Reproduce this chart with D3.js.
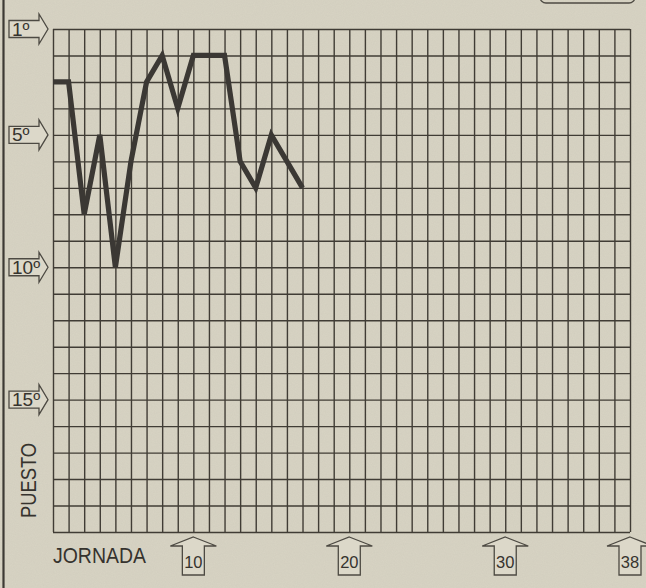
<!DOCTYPE html>
<html>
<head>
<meta charset="utf-8">
<script src="https://cdn.jsdelivr.net/npm/d3@7"></script>
<style>
  html, body { margin: 0; padding: 0; background: #d8d4c4; }
  svg { display: block; }
  .grid line { stroke: #403c35; stroke-width: 1.4; }
  .grid .domain { display: none; }
  .grid text { display: none; }
  .lbl { font-family: 'Liberation Sans Narrow', 'Liberation Sans', Arial, sans-serif; fill: #36332e; }
  .arrow { fill: #dcd8c9; stroke: #4d4a43; stroke-width: 1.3; }
</style>
</head>
<body>
<div id="chart"></div>
<script>
// data: league position after each matchday
var jornadas = [1, 2, 3, 4, 5, 6, 7, 8, 9, 10, 11, 12, 13, 14, 15, 16, 17]
var puestos = [3, 3, 8, 5, 10, 6, 3, 2, 4, 2, 2, 2, 6, 7, 5, 6, 7]

var puestoLabels = [1, 5, 10, 15]
var jornadaLabels = [10, 20, 30, 38]

var width = 646
var height = 588
var margin = {left: 53, right: 16, top: 29, bottom: 56}

var svg = d3.select('#chart')
  .append('svg')
  .attr('width', width)
  .attr('height', height)

// newsprint texture
var defs = svg.append('defs')
var noise = defs.append('filter').attr('id', 'paper')
noise.append('feTurbulence')
  .attr('type', 'fractalNoise')
  .attr('baseFrequency', 0.9)
  .attr('numOctaves', 2)
  .attr('seed', 3)
noise.append('feColorMatrix')
  .attr('type', 'matrix')
  .attr('values', '0 0 0 0 0.35  0 0 0 0 0.33  0 0 0 0 0.28  0 0 0 0.22 0')

svg.append('rect')
  .attr('width', width)
  .attr('height', height)
  .attr('fill', '#d8d4c4')
svg.append('rect')
  .attr('width', width)
  .attr('height', height)
  .attr('filter', 'url(#paper)')
  .attr('opacity', 0.5)

var xScale = d3.scaleLinear()
  .domain([1, 38])
  .range([margin.left, width - margin.right])
var yScale = d3.scaleLinear()
  .domain([1, 20])
  .range([margin.top, height - margin.bottom])

var chartWidth = xScale.range()[1] - xScale.range()[0]
var chartHeight = yScale.range()[1] - yScale.range()[0]

// grid, one line per jornada and per puesto
svg.append('g')
  .attr('class', 'grid')
  .attr('transform', 'translate(0,' + yScale(20) + ')')
  .call(d3.axisBottom(xScale)
    .tickValues(d3.range(1, 39))
    .tickSize(-chartHeight)
    .tickFormat(''))

svg.append('g')
  .attr('class', 'grid')
  .attr('transform', 'translate(' + xScale(1) + ',0)')
  .call(d3.axisLeft(yScale)
    .tickValues(d3.range(1, 21))
    .tickSize(-chartWidth)
    .tickFormat(''))

// frame bits
svg.append('line')
  .attr('x1', 3.5).attr('x2', 3.5)
  .attr('y1', 0).attr('y2', height)
  .attr('stroke', '#3d3a34')
  .attr('stroke-width', 2.2)

svg.append('rect')
  .attr('x', 540).attr('y', -20)
  .attr('width', 95).attr('height', 23)
  .attr('rx', 6).attr('ry', 6)
  .attr('fill', 'none')
  .attr('stroke', '#4d4a43')
  .attr('stroke-width', 1.3)

// the position line
var line = d3.line()
  .x(function (d, i) { return xScale(jornadas[i]) })
  .y(function (d) { return yScale(d) })

svg.append('path')
  .datum(puestos)
  .attr('d', line)
  .attr('fill', 'none')
  .attr('stroke', '#3b3834')
  .attr('stroke-width', 5.2)
  .attr('stroke-linejoin', 'miter')
  .attr('stroke-miterlimit', 6)

// left arrows with puesto labels
var leftArrows = svg.selectAll('.puesto')
  .data(puestoLabels)
  .enter()
  .append('g')
  .attr('class', 'puesto')
  .attr('transform', function (d) { return 'translate(0,' + yScale(d) + ')' })

leftArrows.append('path')
  .attr('class', 'arrow')
  .attr('d', 'M9,-8.5 L39,-8.5 L39,-15 L48,0 L39,15 L39,8.5 L9,8.5 Z')

leftArrows.append('text')
  .attr('class', 'lbl')
  .attr('x', 12)
  .attr('y', 6.5)
  .attr('font-size', 19)
  .text(function (d) { return d + 'º' })

// bottom arrows with jornada labels
var base = yScale(20)
var bottomArrows = svg.selectAll('.jornada')
  .data(jornadaLabels)
  .enter()
  .append('g')
  .attr('class', 'jornada')
  .attr('transform', function (d) { return 'translate(' + xScale(d) + ',0)' })

bottomArrows.append('path')
  .attr('class', 'arrow')
  .attr('d', 'M0,' + (base + 5) + ' L23,' + (base + 14) + ' L11,' + (base + 14) +
    ' L11,' + (base + 43) + ' L-11,' + (base + 43) + ' L-11,' + (base + 14) +
    ' L-23,' + (base + 14) + ' Z')

bottomArrows.append('text')
  .attr('class', 'lbl')
  .attr('text-anchor', 'middle')
  .attr('y', base + 36)
  .attr('font-size', 16.5)
  .text(function (d) { return d })

svg.append('text')
  .attr('class', 'lbl')
  .attr('x', 53)
  .attr('y', 563)
  .attr('font-size', 22)
  .attr('textLength', 93)
  .attr('lengthAdjust', 'spacingAndGlyphs')
  .text('JORNADA')

svg.append('text')
  .attr('class', 'lbl')
  .attr('transform', 'translate(36,518) rotate(-90)')
  .attr('font-size', 22)
  .attr('textLength', 75)
  .attr('lengthAdjust', 'spacingAndGlyphs')
  .text('PUESTO')
</script>
</body>
</html>
